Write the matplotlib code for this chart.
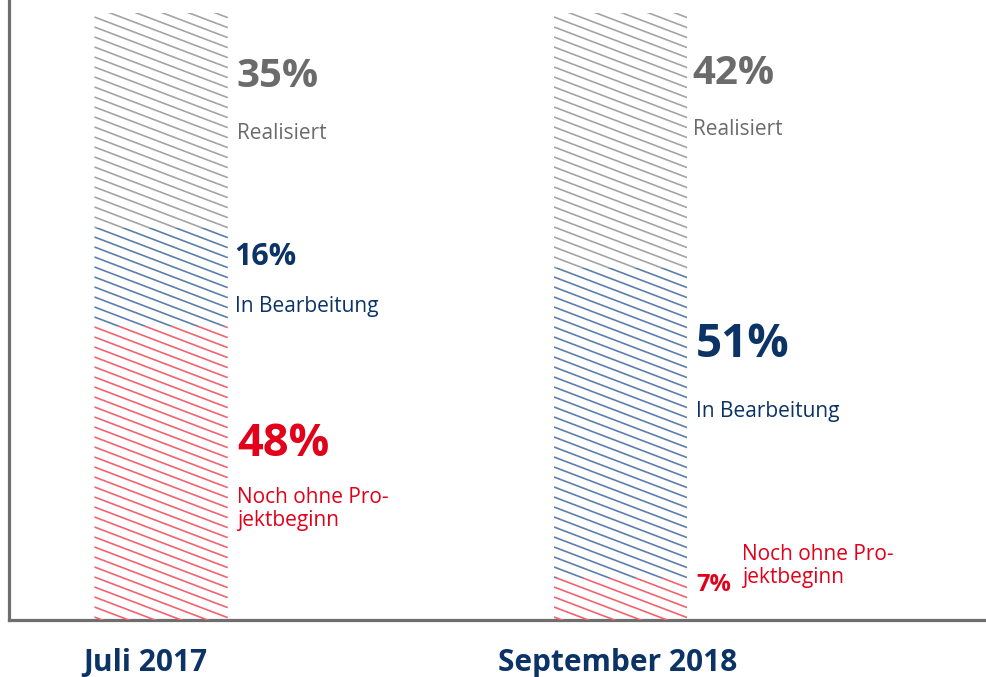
import numpy as np
import matplotlib
matplotlib.use("Agg")
import matplotlib.pyplot as plt
from matplotlib.collections import LineCollection
from matplotlib.transforms import IdentityTransform

# data
periods = ["Juli 2017", "September 2018"]
statuses = ["Noch ohne Projektbeginn", "In Bearbeitung", "Realisiert"]
status_labels = ["Noch ohne Pro-\njektbeginn", "In Bearbeitung", "Realisiert"]
shares = {
    "Juli 2017": [48, 16, 35],
    "September 2018": [7, 51, 42],
}

hatch_colors = ["#f2626f", "#5b7fad", "#a4a4a4"]
text_colors = ["#e2001a", "#0b3366", "#6b6b6b"]
navy = "#0b3366"

plt.rcParams["font.family"] = ["Open Sans", "DejaVu Sans"]

W, H, DPI = 986, 677, 100
fig = plt.figure(figsize=(W / DPI, H / DPI), dpi=DPI)
ax = fig.add_axes([9 / W, (H - 620) / H, 1 - 9 / W, 620 / H])

x = np.arange(len(periods))
bar_w = 0.29

# stacked bars, normalised to 100 %
patches = []
for i, p in enumerate(periods):
    vals = np.array(shares[p], dtype=float)
    vals = vals / vals.sum() * 100
    bottom = 0
    for j, v in enumerate(vals):
        b = ax.bar(x[i], v, bar_w, bottom=bottom, color="none",
                   edgecolor="none", linewidth=0)
        patches.append((b[0], hatch_colors[j]))
        bottom += v

ax.set_xlim(-0.331, 1.795)
ax.set_ylim(0, 102.2)

# custom shallow hatch (matplotlib hatches are fixed at 45 degrees)
slope = 0.38
gap = 10.0
for patch, col in patches:
    ext = patch.get_window_extent()
    x0, x1, y0, y1 = ext.x0, ext.x1, ext.y0, ext.y1
    cs = np.arange(np.floor(y0 / gap) * gap, y1 + slope * (x1 - x0) + gap, gap)
    segs = [[(x0, c), (x1, c - slope * (x1 - x0))] for c in cs]
    lc = LineCollection(segs, colors=col, linewidths=1.2,
                        transform=IdentityTransform())
    lc.set_clip_path(patch)
    fig.add_artist(lc)

# labels next to the bars: (dx value, y value, size, dx text, y last line)
label_pos = {
    "Juli 2017": [
        (0.165, 27.0, 32.5, 0.165, 15.5),
        (0.160, 58.5, 22, 0.160, 50.8),
        (0.165, 87.8, 29, 0.165, 79.3),
    ],
    "September 2018": [
        (0.164, 4.8, 17, 0.264, 6.1),
        (0.164, 43.4, 33, 0.164, 33.4),
        (0.157, 88.3, 29, 0.157, 80.0),
    ],
}
for i, p in enumerate(periods):
    for j, v in enumerate(shares[p]):
        dx, y, fs, dx2, y2 = label_pos[p][j]
        ax.text(x[i] + dx, y, f"{v}%", color=text_colors[j], fontsize=fs,
                fontweight="bold", va="baseline", ha="left")
        ax.text(x[i] + dx2, y2, status_labels[j], color=text_colors[j],
                fontsize=15, va="baseline", ha="left", linespacing=1.1)

# period labels under the bars
label_dx = [-0.034, -0.007]
for i, p in enumerate(periods):
    ax.text(x[i] + label_dx[i], -0.045, p, transform=ax.get_xaxis_transform(),
            fontsize=21.5, fontweight="bold", color=navy, ha="center", va="top")

ax.set_xticks([])
ax.set_yticks([])

for s in ["top", "right"]:
    ax.spines[s].set_visible(False)
for s in ["left", "bottom"]:
    ax.spines[s].set_color("#6e6e6e")
    ax.spines[s].set_linewidth(2.3)

fig.savefig("out.png", dpi=DPI)
